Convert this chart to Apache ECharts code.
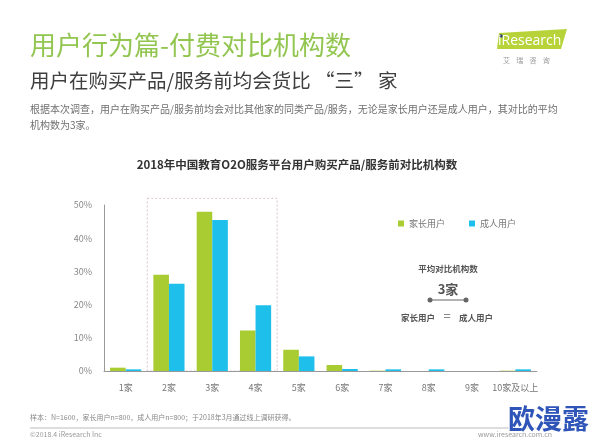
<!DOCTYPE html>
<html>
<head>
<meta charset="utf-8">
<script src="https://cdn.jsdelivr.net/npm/echarts@6/dist/echarts.min.js"></script>
<style>
  html, body { margin: 0; padding: 0; background: #fff; }
  #chart { width: 594px; height: 444px; }
</style>
</head>
<body>
<div id="chart"></div>
<script>
const categories = ['1家', '2家', '3家', '4家', '5家', '6家', '7家', '8家', '9家', '10家及以上']
const parentUsers = [1.0, 29.0, 48.0, 12.2, 6.4, 1.8, 0.1, 0, 0, 0.1]
const adultUsers = [0.5, 26.3, 45.5, 19.8, 4.4, 0.6, 0.5, 0.5, 0, 0.5]
const yTicks = [0, 10, 20, 30, 40, 50]

const green = '#a9cc32'
const blue = '#1fbfeb'
const font = '"Noto Sans CJK SC", "Noto Sans", sans-serif'

const chart = echarts.init(document.getElementById('chart'))

chart.setOption({
  backgroundColor: '#fff',
  textStyle: { fontFamily: font },
  grid: { left: 104, right: 57, top: 205, bottom: 73 },
  legend: {
    left: 393,
    top: 214,
    itemWidth: 6,
    itemHeight: 6,
    itemGap: 24,
    icon: 'rect',
    textStyle: { fontSize: 9, color: '#777', fontFamily: font },
    data: ['家长用户', '成人用户']
  },
  xAxis: {
    type: 'category',
    data: categories,
    axisLine: { lineStyle: { color: '#999', width: 1 } },
    axisTick: { show: false },
    axisLabel: { color: '#777', fontSize: 9, margin: 12, interval: 0 }
  },
  yAxis: {
    type: 'value',
    min: yTicks[0],
    max: yTicks[yTicks.length - 1],
    interval: 10,
    axisLine: { show: true, lineStyle: { color: '#999', width: 1 } },
    axisTick: { show: false },
    splitLine: { show: false },
    axisLabel: { color: '#888', fontSize: 9, margin: 12, formatter: '{value}%' }
  },
  series: [{
    name: '家长用户',
    type: 'bar',
    data: parentUsers,
    barWidth: '36%',
    barGap: '0%',
    itemStyle: { color: green },
    animation: false
  }, {
    name: '成人用户',
    type: 'bar',
    data: adultUsers,
    barWidth: '36%',
    itemStyle: { color: blue },
    animation: false
  }]
})

// dashed box around 2家 - 4家, positioned from the axis
const half = (chart.convertToPixel({ xAxisIndex: 0 }, categories[2]) - chart.convertToPixel({ xAxisIndex: 0 }, categories[1])) / 2
const boxLeft = chart.convertToPixel({ xAxisIndex: 0 }, categories[1]) - half
const boxRight = chart.convertToPixel({ xAxisIndex: 0 }, categories[3]) + half
const boxTop = chart.convertToPixel({ yAxisIndex: 0 }, 52)
const boxBottom = chart.convertToPixel({ yAxisIndex: 0 }, 0)

chart.setOption({
  graphic: [
    {
      type: 'rect',
      shape: { x: boxLeft, y: boxTop, width: boxRight - boxLeft, height: boxBottom - boxTop },
      style: { fill: 'none', stroke: '#d9c4ca', lineWidth: 1, lineDash: [2, 2] },
      z: -1
    },
    // header texts
    { type: 'text', left: 30, top: 32, style: { text: '用户行为篇-付费对比机构数', fontSize: 26, fill: '#93c651', fontFamily: font } },
    { type: 'text', left: 30, top: 71, style: { text: '用户在购买产品/服务前均会货比 “三” 家', fontSize: 19.5, fill: '#3f3f3f', fontFamily: font } },
    { type: 'text', left: 30, top: 101, style: { text: '根据本次调查，用户在购买产品/服务前均会对比其他家的同类产品/服务，无论是家长用户还是成人用户，其对比的平均\n机构数为3家。', fontSize: 10, lineHeight: 16, fill: '#6f6f6f', fontFamily: font } },
    // logo
    { type: 'polygon', shape: { points: [[499, 33], [567, 29], [561, 49], [497, 49]] }, style: { fill: '#b6d43a' } },
    { type: 'circle', shape: { cx: 501, cy: 36, r: 1.8 }, style: { fill: '#2c3e6b' } },
    { type: 'text', left: 498, top: 34, style: { text: 'iResearch', fontSize: 14, fill: '#fff', fontFamily: 'Open Sans, sans-serif' } },
    { type: 'text', left: 503, top: 57, style: { text: '艾    瑞    咨    询', fontSize: 7, fill: '#999', fontFamily: font } },
    // chart title
    { type: 'text', left: 'center', top: 159, style: { text: '2018年中国教育O2O服务平台用户购买产品/服务前对比机构数', fontSize: 11.5, fontWeight: 'bold', fill: '#333', fontFamily: font } },
    // average annotation
    { type: 'text', x: 448, y: 269, style: { text: '平均对比机构数', fontSize: 8.5, fontWeight: 'bold', fill: '#555', align: 'center', verticalAlign: 'middle', fontFamily: font } },
    { type: 'text', x: 448, y: 289, style: { text: '3家', fontSize: 13, fontWeight: 'bold', fill: '#555', align: 'center', verticalAlign: 'middle', fontFamily: font } },
    { type: 'line', shape: { x1: 430, y1: 300, x2: 466, y2: 300 }, style: { stroke: '#666', lineWidth: 1.2 } },
    { type: 'circle', shape: { cx: 430, cy: 300, r: 2.5 }, style: { fill: '#666' } },
    { type: 'circle', shape: { cx: 466, cy: 300, r: 2.5 }, style: { fill: '#666' } },
    { type: 'text', x: 418, y: 318, style: { text: '家长用户', fontSize: 8.5, fontWeight: 'bold', fill: '#555', align: 'center', verticalAlign: 'middle', fontFamily: font } },
    { type: 'text', x: 447, y: 316, style: { text: '=', fontSize: 13, fill: '#666', align: 'center', verticalAlign: 'middle', fontFamily: font } },
    { type: 'text', x: 476, y: 318, style: { text: '成人用户', fontSize: 8.5, fontWeight: 'bold', fill: '#555', align: 'center', verticalAlign: 'middle', fontFamily: font } },
    // footer
    { type: 'text', left: 30, top: 414, style: { text: '样本：N=1600，家长用户n=800，成人用户n=800；于2018年3月通过线上调研获得。', fontSize: 7, fill: '#888', fontFamily: font } },
    { type: 'line', shape: { x1: 30, y1: 428, x2: 560, y2: 428 }, style: { stroke: '#bbb', lineWidth: 1 } },
    { type: 'text', left: 30, top: 431, style: { text: '©2018.4 iResearch Inc', fontSize: 7, fill: '#999', fontFamily: font } },
    { type: 'text', left: 478, top: 431, style: { text: 'www.iresearch.com.cn', fontSize: 7, fill: '#999', fontFamily: font } },
    { type: 'text', right: 4, top: 404, style: { text: '欧漫露', fontSize: 27, fontWeight: 'bold', fill: '#2f55b8', stroke: '#fff', lineWidth: 2, fontFamily: font } }
  ]
})
</script>
</body>
</html>
